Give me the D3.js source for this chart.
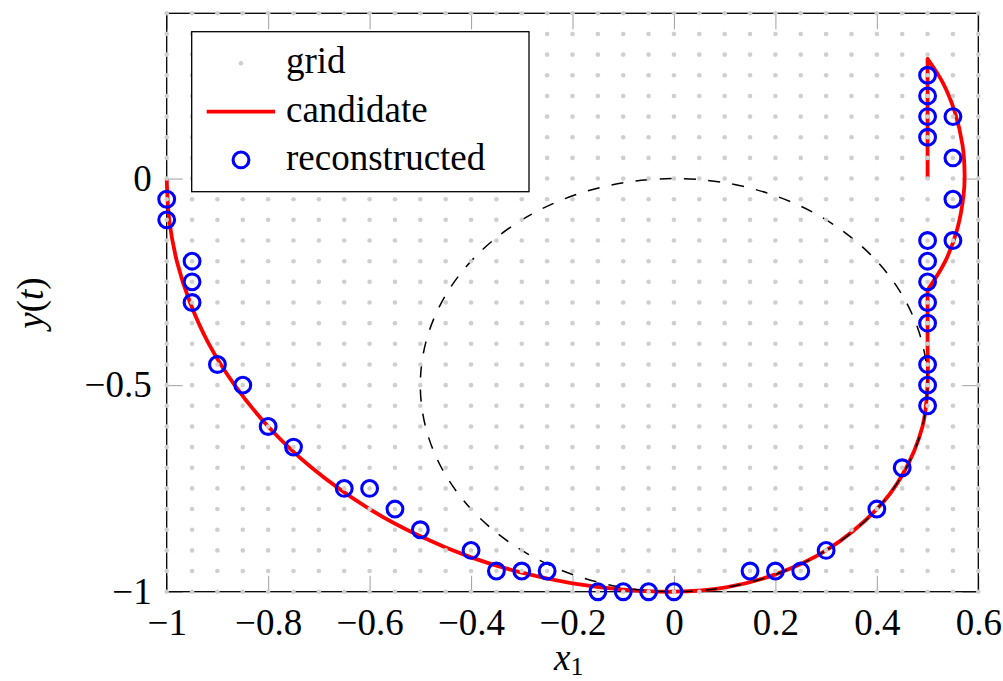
<!DOCTYPE html>
<html>
<head>
<meta charset="utf-8">
<script src="https://cdn.jsdelivr.net/npm/d3@7"></script>
<style>
  html, body { margin: 0; padding: 0; background: #fff; }
  svg { display: block; }
  svg text { font-family: "Liberation Serif", "DejaVu Serif", serif; }
</style>
</head>
<body>
<div id="chart"></div>
<script>
// --- Data ---
const gridX = [-1, -0.95, -0.9, -0.85, -0.8, -0.75, -0.7, -0.65, -0.6, -0.55, -0.5, -0.45, -0.4, -0.35, -0.3, -0.25,
    -0.2, -0.15, -0.1, -0.05, 0, 0.05, 0.1, 0.15, 0.2, 0.25, 0.3, 0.35, 0.4, 0.45, 0.5, 0.55, 0.6];
const gridY = [-1, -0.95, -0.9, -0.85, -0.8, -0.75, -0.7, -0.65, -0.6, -0.55, -0.5, -0.45, -0.4, -0.35, -0.3, -0.25,
    -0.2, -0.15, -0.1, -0.05, 0, 0.05, 0.1, 0.15, 0.2, 0.25, 0.3, 0.35, 0.4];

// candidate curve (corner points repeated so the curve keeps its sharp corners)
const candidateX = [-1, -0.995, -0.98, -0.954, -0.917, -0.866, -0.8, -0.714, -0.6, -0.5, -0.4, -0.3, -0.2, -0.1, 0,
    0.1, 0.2, 0.3, 0.4, 0.45, 0.49, 0.5, 0.5, 0.5, 0.5,
    0.535, 0.559, 0.571, 0.573, 0.569, 0.554, 0.531, 0.5, 0.5, 0.5];
const candidateY = [0, -0.1, -0.2, -0.3, -0.4, -0.5, -0.6, -0.7, -0.8, -0.866, -0.917, -0.954, -0.98, -0.995, -1,
    -0.99, -0.958, -0.9, -0.8, -0.718, -0.6, -0.5, -0.4, -0.27, -0.27,
    -0.2, -0.12, -0.04, 0.01, 0.08, 0.16, 0.23, 0.29, 0.29, 0];

const reconstructedX = [-1, -1, -0.95, -0.95, -0.95, -0.9, -0.85, -0.8, -0.75,
    -0.65, -0.6, -0.55, -0.5, -0.4, -0.35, -0.3, -0.25, -0.15, -0.1, -0.05, 0,
    0.15, 0.2, 0.25, 0.3, 0.4, 0.45,
    0.5, 0.5, 0.5, 0.5, 0.5, 0.5, 0.5, 0.5,
    0.55, 0.55, 0.55, 0.55,
    0.5, 0.5, 0.5, 0.5];
const reconstructedY = [-0.05, -0.1, -0.2, -0.25, -0.3, -0.45, -0.5, -0.6, -0.65,
    -0.75, -0.75, -0.8, -0.85, -0.9, -0.95, -0.95, -0.95, -1, -1, -1, -1,
    -0.95, -0.95, -0.95, -0.9, -0.8, -0.7,
    -0.55, -0.5, -0.45, -0.35, -0.3, -0.25, -0.2, -0.15,
    -0.15, -0.05, 0.05, 0.15,
    0.1, 0.15, 0.2, 0.25];

// dashed reference circle
const circleCenter = [0, -0.5];
const circleRadius = 0.5;

const xTicks = [-1, -0.8, -0.6, -0.4, -0.2, 0, 0.2, 0.4, 0.6];
const yTicks = [-1, -0.5, 0];
const legendLabels = ["grid", "candidate", "reconstructed"];

// --- Layout ---
const width = 1003;
const height = 681;
const margin = { top: 13.3, right: 24.7, bottom: 89.3, left: 166.7 };
const fontSize = 37;
const serif = '"Liberation Serif", "DejaVu Serif", serif';

const svg = d3.select("#chart")
    .append("svg")
    .attr("width", width)
    .attr("height", height);

const x = d3.scaleLinear().domain([-1, 0.6]).range([margin.left, width - margin.right]);
const y = d3.scaleLinear().domain([-1, 0.4]).range([height - margin.bottom, margin.top]);

const fmt = d3.format("");  // d3 v7 gives a real minus sign

// --- Ticks (gray, pointing inwards) ---
function styleAxis(g) {
    g.attr("font-family", serif).attr("font-size", fontSize);
    g.select(".domain").remove();
    g.selectAll(".tick line").attr("stroke", "#a8a8a8").attr("stroke-width", 1.1);
    g.selectAll(".tick text").attr("fill", "#000");
}

svg.append("g")
    .attr("transform", `translate(0,${y(-1)})`)
    .call(d3.axisBottom(x).tickValues(xTicks).tickFormat(fmt).tickSizeInner(-16).tickSizeOuter(0).tickPadding(17))
    .call(styleAxis);

svg.append("g")
    .attr("transform", `translate(0,${y(0.4)})`)
    .call(d3.axisTop(x).tickValues(xTicks).tickFormat("").tickSizeInner(-16).tickSizeOuter(0))
    .call(styleAxis);

svg.append("g")
    .attr("transform", `translate(${x(-1)},0)`)
    .call(d3.axisLeft(y).tickValues(yTicks).tickFormat(fmt).tickSizeInner(-16).tickSizeOuter(0).tickPadding(15))
    .call(styleAxis);

svg.append("g")
    .attr("transform", `translate(${x(0.6)},0)`)
    .call(d3.axisRight(y).tickValues(yTicks).tickFormat("").tickSizeInner(-16).tickSizeOuter(0))
    .call(styleAxis);

// --- Frame ---
svg.append("rect")
    .attr("x", x(-1))
    .attr("y", y(0.4))
    .attr("width", x(0.6) - x(-1))
    .attr("height", y(-1) - y(0.4))
    .attr("fill", "none")
    .attr("stroke", "#000")
    .attr("stroke-width", 1.3);

// --- Candidate curve ---
const candidate = candidateX.map((v, i) => [v, candidateY[i]]);
const line = d3.line()
    .x(d => x(d[0]))
    .y(d => y(d[1]))
    .curve(d3.curveCatmullRom.alpha(0.5));

svg.append("path")
    .datum(candidate)
    .attr("d", line)
    .attr("fill", "none")
    .attr("stroke", "#ff0000")
    .attr("stroke-width", 3.8)
    .attr("stroke-linejoin", "round");

// --- Dashed circle (starts at angle 0, counter-clockwise like tikz) ---
const cx = x(circleCenter[0]);
const cy = y(circleCenter[1]);
const rx = x(circleCenter[0] + circleRadius) - cx;
const ry = y(circleCenter[1] - circleRadius) - cy;
svg.append("path")
    .attr("d", `M${cx + rx},${cy} A${rx},${ry} 0 1 0 ${cx - rx},${cy} A${rx},${ry} 0 1 0 ${cx + rx},${cy}`)
    .attr("fill", "none")
    .attr("stroke", "#000")
    .attr("stroke-width", 1.5)
    .attr("stroke-dasharray", "12 12.3");

// --- Reconstructed points ---
const reconstructed = reconstructedX.map((v, i) => [v, reconstructedY[i]]);
svg.append("g")
    .selectAll("circle")
    .data(reconstructed)
    .enter().append("circle")
    .attr("cx", d => x(d[0]))
    .attr("cy", d => y(d[1]))
    .attr("r", 7.9)
    .attr("fill", "none")
    .attr("stroke", "#0000ff")
    .attr("stroke-width", 3.1);

// --- Grid dots (drawn on top, as in the source) ---
const gridPts = [];
gridX.forEach(gx => gridY.forEach(gy => gridPts.push([gx, gy])));
svg.append("g")
    .selectAll("circle")
    .data(gridPts)
    .enter().append("circle")
    .attr("cx", d => x(d[0]))
    .attr("cy", d => y(d[1]))
    .attr("r", 2.3)
    .attr("fill", "#cfcfcf");

// --- Legend ---
const legend = svg.append("g").attr("transform", "translate(191.7,31.7)");
legend.append("rect")
    .attr("width", 337.3)
    .attr("height", 160)
    .attr("fill", "#fff")
    .attr("stroke", "#000")
    .attr("stroke-width", 1.3);

const rowY = i => 31.6 + i * 48.3;
legend.append("circle").attr("cx", 49.3).attr("cy", rowY(0)).attr("r", 2.3).attr("fill", "#cfcfcf");
legend.append("line")
    .attr("x1", 15).attr("x2", 83.3)
    .attr("y1", rowY(1)).attr("y2", rowY(1))
    .attr("stroke", "#ff0000").attr("stroke-width", 3.8);
legend.append("circle").attr("cx", 49.3).attr("cy", rowY(2)).attr("r", 7.9)
    .attr("fill", "none").attr("stroke", "#0000ff").attr("stroke-width", 3.1);

legend.selectAll("text.lbl")
    .data(legendLabels)
    .enter().append("text")
    .attr("class", "lbl")
    .attr("x", 94.3)
    .attr("y", (d, i) => rowY(i) + 10)
    .style("font-size", fontSize + "px")
    .text(d => d);

// --- Axis labels ---
const xl = svg.append("text")
    .attr("x", 554)
    .attr("y", 670)
    .style("font-size", fontSize + "px");
xl.append("tspan").style("font-style", "italic").text("x");
xl.append("tspan").attr("dy", 5).style("font-size", "26px").text("1");

const yl = svg.append("text")
    .attr("transform", "translate(43,303) rotate(-90)")
    .attr("text-anchor", "middle")
    .style("font-size", fontSize + "px");
yl.append("tspan").style("font-style", "italic").text("y");
yl.append("tspan").text("(");
yl.append("tspan").style("font-style", "italic").text("t");
yl.append("tspan").text(")");
</script>
</body>
</html>
